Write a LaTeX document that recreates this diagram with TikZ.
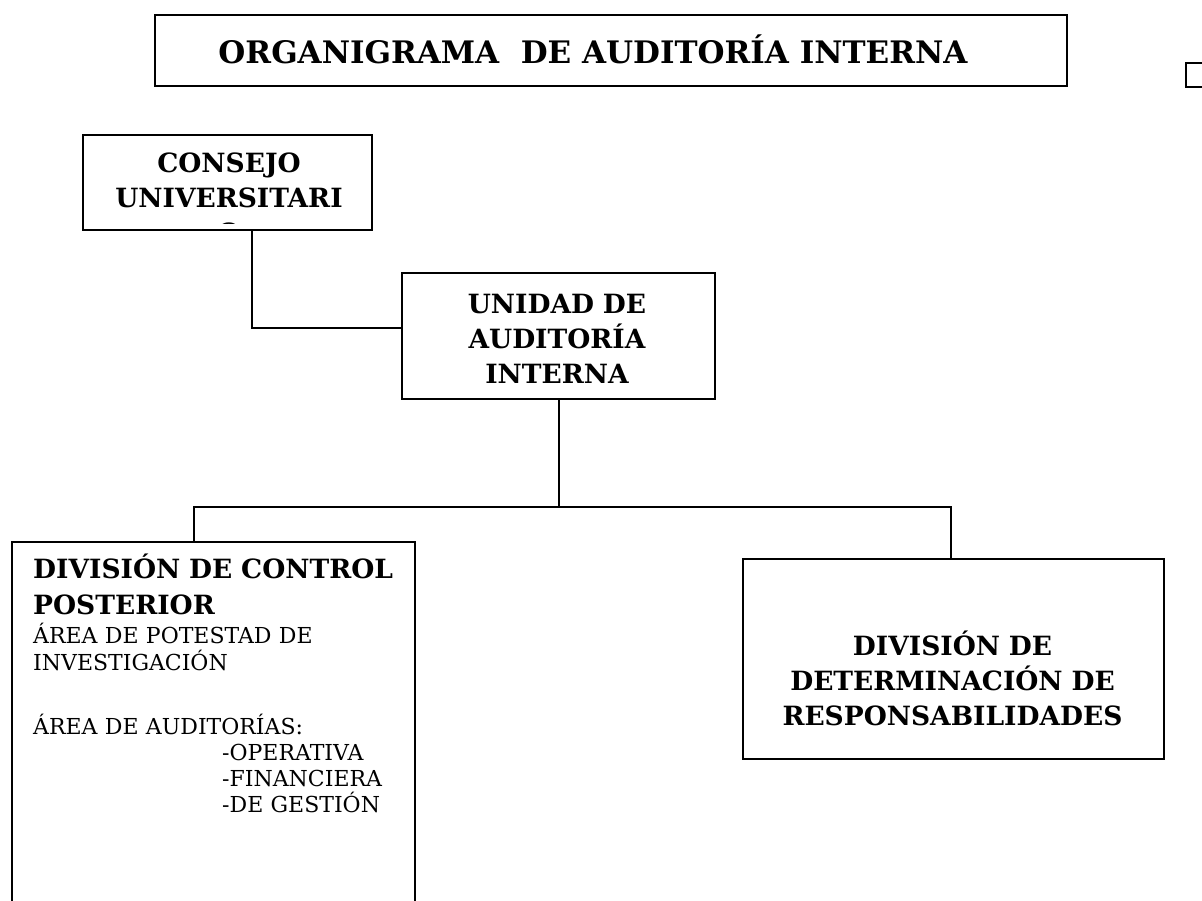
\documentclass[tikz,border=0pt]{standalone}
\usepackage{fontspec}
\setmainfont{DejaVu Serif}
\begin{document}
\begin{tikzpicture}[x=1pt, y=-1pt]
  \useasboundingbox (0,0) rectangle (1202,900);  % Seite wie Vorlage.

  \tikzstyle{box}=[draw, line width=2pt, inner sep=0pt, fill=white]
  \tikzstyle{line}=[line width=2pt]
  \tikzstyle{head}=[font=\fontsize{26.5}{35}\selectfont\bfseries, text width=420pt, align=center, inner sep=0pt, anchor=base]
  \tikzstyle{plain}=[font=\fontsize{22}{27}\selectfont, text width=380pt, align=left, inner sep=0pt, anchor=base west]

  \node[box, minimum width=912, minimum height=71]  (title)   at (611, 50.5)  {};
  \node[box, minimum width=289, minimum height=95]  (consejo) at (227.5, 182.5) {};
  \node[box, minimum width=313, minimum height=126] (unidad)  at (558.5, 336)  {};
  \node[box, minimum width=403, minimum height=368] (ctrl)    at (213.5, 726)  {};
  \node[box, minimum width=421, minimum height=200] (resp)    at (953.5, 659)  {};
  \node[box, minimum width=24, minimum height=24]   (mark)    at (1198, 75)    {};

  \node[font=\fontsize{31}{36}\selectfont\bfseries, inner sep=0pt, anchor=base] (titulo) at (593, 63) {ORGANIGRAMA\ \ DE AUDITORÍA INTERNA};

  \begin{scope}
    \clip (consejo.north west) rectangle ([yshift=7.5pt]consejo.south east);
    \node[head, text width=280pt] (consejotxt) at (229, 172) {CONSEJO\\UNIVERSITARI\\O};
  \end{scope}
  \node[head, text width=300pt] (unidadtxt) at (557, 313) {UNIDAD DE\\AUDITORÍA\\INTERNA};
  \node[head] (resptxt) at (952.5, 655) {DIVISIÓN DE\\DETERMINACIÓN DE\\RESPONSABILIDADES};

  \node[head, anchor=base west, align=left, font=\fontsize{26.5}{36}\selectfont\bfseries] (ctrlhead) at (33, 578) {DIVISIÓN DE CONTROL\\POSTERIOR};
  \node[plain] (areas) at (33, 643) {ÁREA DE POTESTAD DE\\INVESTIGACIÓN\\[37pt]ÁREA DE AUDITORÍAS:};
  \node[plain, text width=180pt, font=\fontsize{22}{26}\selectfont] (tipos) at (222, 760) {-OPERATIVA\\-FINANCIERA\\-DE GESTIÓN};

  \coordinate (cu) at (252, 328);
  \coordinate (bl) at (194, 507);
  \coordinate (br) at (951, 507);
  \draw[line] (consejo.south -| cu) -- (cu) -- (unidad.west |- cu);
  \draw[line] (unidad.south) -- (unidad.south |- bl);
  \draw[line] (bl |- ctrl.north) -- (bl) -- (br) -- (br |- resp.north);
\end{tikzpicture}
\end{document}
